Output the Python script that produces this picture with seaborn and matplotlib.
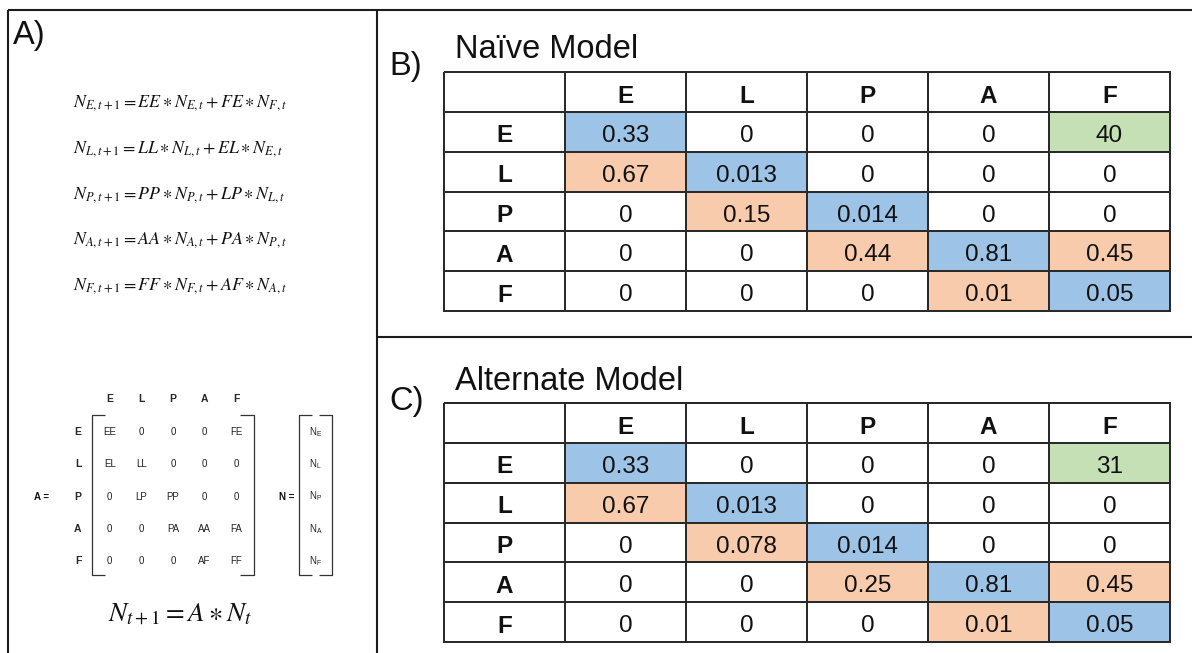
import numpy as np
import matplotlib
matplotlib.use("Agg")
import matplotlib.pyplot as plt
from matplotlib.colors import ListedColormap
from matplotlib.lines import Line2D
import seaborn as sns

# ---- data -------------------------------------------------------------
stages = ["E", "L", "P", "A", "F"]

naive_values = [
    [0.33, 0, 0, 0, 40],
    [0.67, 0.013, 0, 0, 0],
    [0, 0.15, 0.014, 0, 0],
    [0, 0, 0.44, 0.81, 0.45],
    [0, 0, 0, 0.01, 0.05],
]
alternate_values = [
    [0.33, 0, 0, 0, 31],
    [0.67, 0.013, 0, 0, 0],
    [0, 0.078, 0.014, 0, 0],
    [0, 0, 0.25, 0.81, 0.45],
    [0, 0, 0, 0.01, 0.05],
]
# role of each matrix cell: S = stay in stage, T = transition, R = reproduction, - = none
roles = ["S---R", "TS---", "-TS--", "--TST", "---TS"]

symbols = [
    ["EE", "0", "0", "0", "FE"],
    ["EL", "LL", "0", "0", "0"],
    ["0", "LP", "PP", "0", "0"],
    ["0", "0", "PA", "AA", "FA"],
    ["0", "0", "0", "AF", "FF"],
]

equations = [
    r"$N_{E,t+1} = EE \ast N_{E,t} + FE \ast N_{F,t}$",
    r"$N_{L,t+1} = LL \ast N_{L,t} + EL \ast N_{E,t}$",
    r"$N_{P,t+1} = PP \ast N_{P,t} + LP \ast N_{L,t}$",
    r"$N_{A,t+1} = AA \ast N_{A,t} + PA \ast N_{P,t}$",
    r"$N_{F,t+1} = FF \ast N_{F,t} + AF \ast N_{A,t}$",
]
projection = r"$N_{t+1} = A \ast N_t$"

# ---- style ------------------------------------------------------------
sns.set_theme(style="white")
plt.rcParams["font.family"] = ["Liberation Sans", "DejaVu Sans"]
plt.rcParams["mathtext.fontset"] = "stix"

role_codes = {"-": 0, "S": 1, "T": 2, "R": 3}
role_cmap = ListedColormap(["#FFFFFF", "#9DC3E6", "#F8CBAD", "#C5E0B4"])

W, H = 1192, 653
fig = plt.figure(figsize=(W / 100, H / 100), dpi=100)


def fx(x):
    return x / W


def fy(y):
    return 1 - y / H


def box(x0, y0, x1, y1):
    return [fx(x0), fy(y1), fx(x1) - fx(x0), fy(y0) - fy(y1)]


def line(xs, ys, lw=1.5, color="#1c1c1c"):
    fig.add_artist(Line2D([fx(v) for v in xs], [fy(v) for v in ys],
                          lw=lw, color=color, solid_capstyle="butt"))


# ---- panel frames -----------------------------------------------------
line([8, W], [10, 10])
line([8, 8], [10, H])
line([377, 377], [10, H])
line([377, W], [337, 337])


# ---- projection matrices (B, C) ---------------------------------------
def draw_table(rect, values, title, letter, title_base, letter_base):
    ax = fig.add_axes(rect)
    n = len(stages) + 1
    codes = np.zeros((n, n))
    labels = np.full((n, n), "", dtype=object)
    labels[0, 1:] = stages
    labels[1:, 0] = stages
    for i in range(len(stages)):
        for j in range(len(stages)):
            codes[i + 1, j + 1] = role_codes[roles[i][j]]
            labels[i + 1, j + 1] = f"{values[i][j]:g}"
    sns.heatmap(codes, ax=ax, cmap=role_cmap, vmin=-0.5, vmax=3.5,
                annot=labels, fmt="", cbar=False,
                linewidths=1.3, linecolor="#2a2a2a",
                xticklabels=False, yticklabels=False,
                annot_kws={"fontsize": 17.5, "color": "#111111",
                           "va": "center_baseline"})
    ax.collections[0].set_clip_on(False)
    for k, t in enumerate(ax.texts):
        r, c = divmod(k, n)
        x, y = t.get_position()
        t.set_position((x, y + 0.04))
        if r == 0 or c == 0:
            t.set_fontweight("bold")
    fig.text(fx(455), fy(title_base), title, fontsize=23.5, va="baseline",
             ha="left", color="#111111")
    fig.text(fx(389), fy(letter_base), letter, fontsize=23.5, va="baseline",
             ha="left", color="#111111")
    return ax


draw_table(box(444, 72, 1170, 311), naive_values, "Naïve Model", "B)", 58, 75)
draw_table(box(444, 403, 1170, 642), alternate_values, "Alternate Model", "C)", 390, 410)

# ---- panel A: stage equations -----------------------------------------
fig.text(fx(13), fy(44), "A)", fontsize=23.5, va="baseline", ha="left",
         color="#111111")
for k, eq in enumerate(equations):
    fig.text(fx(73), fy(107 + k * 45.75), eq, fontsize=12.9, va="baseline",
             ha="left", color="#111111")

# ---- panel A: symbolic matrix A and vector N --------------------------
axm = fig.add_axes(box(94, 416, 252, 577))
sns.heatmap(np.zeros((5, 5)), ax=axm, cmap=ListedColormap(["#FFFFFF"]),
            cbar=False, annot=np.array(symbols, dtype=object), fmt="",
            xticklabels=stages, yticklabels=stages,
            annot_kws={"fontsize": 7, "color": "#222222"})
axm.xaxis.tick_top()
axm.tick_params(length=0, labelsize=7.5, pad=9)
for t in axm.get_xticklabels() + axm.get_yticklabels():
    t.set_fontweight("bold")
    t.set_rotation(0)

axn = fig.add_axes(box(303, 416, 328, 577))
sns.heatmap(np.zeros((5, 1)), ax=axn, cmap=ListedColormap(["#FFFFFF"]),
            cbar=False,
            annot=np.array([[rf"$\mathregular{{N_{s}}}$"] for s in stages], dtype=object),
            fmt="", xticklabels=False, yticklabels=False,
            annot_kws={"fontsize": 7, "color": "#222222"})

fig.text(fx(42), fy(497), "A =", fontsize=7, fontweight="bold", ha="center",
         va="center", color="#111111")
fig.text(fx(287), fy(497), "N =", fontsize=7, fontweight="bold", ha="center",
         va="center", color="#111111")

# brackets
bt, bb = 415, 575
for xv, xt in [(92, 105), (254, 240), (299, 312), (332, 319)]:
    line([xt, xv, xv, xt], [bt, bt, bb, bb], lw=0.9, color="#333333")

fig.text(fx(180), fy(620), projection, fontsize=19.5, va="baseline",
         ha="center", color="#111111")

fig.savefig("out.png", dpi=100)
